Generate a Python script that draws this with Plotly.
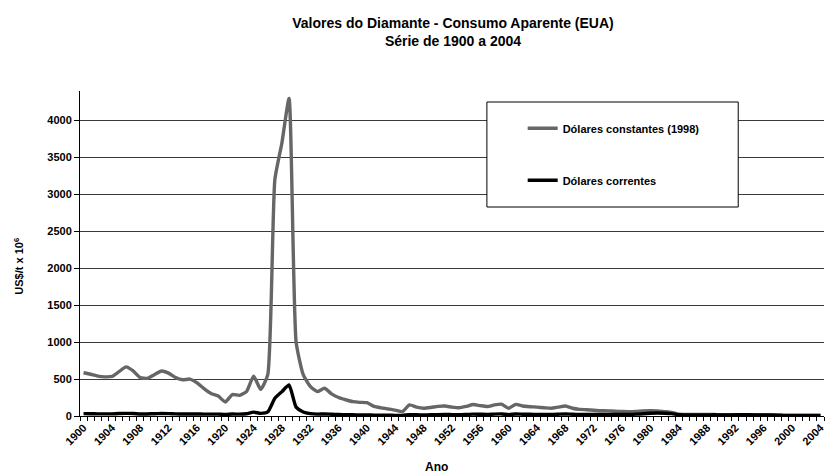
import plotly.graph_objects as go

years = list(range(1900, 2005))

constantes_1998 = [
    585, 565, 540, 530, 535, 600, 665, 610, 520, 510,   # 1900-1909
    560, 610, 580, 520, 490, 500, 450, 370, 305, 270,   # 1910-1919
    190, 290, 280, 330, 540, 360, 560, 3200, 3700, 4300,  # 1920-1929
    1000, 560, 400, 330, 375, 300, 250, 220, 195, 185,  # 1930-1939
    180, 130, 110, 95, 80, 60, 150, 120, 105, 115,      # 1940-1949
    130, 135, 120, 112, 130, 155, 140, 128, 150, 160,   # 1950-1959
    105, 158, 135, 126, 120, 112, 104, 120, 135, 105,   # 1960-1969
    90, 85, 78, 72, 70, 65, 60, 58, 62, 70,             # 1970-1979
    72, 70, 60, 50, 25, 22, 20, 20, 20, 20,             # 1980-1989
    18, 18, 18, 17, 17, 16, 15, 15, 12, 8,              # 1990-1999
    8, 7, 7, 6, 6,                                      # 2000-2004
]

correntes = [
    32, 31, 29, 29, 29, 33, 36, 34, 28, 28,             # 1900-1909
    31, 33, 32, 29, 27, 28, 27, 26, 25, 26,             # 1910-1919
    20, 27, 25, 30, 52, 36, 55, 240, 330, 420,          # 1920-1929
    120, 55, 32, 25, 28, 23, 20, 18, 16, 15,            # 1930-1939
    15, 11, 10, 10, 9, 8, 18, 16, 15, 16,               # 1940-1949
    19, 21, 19, 18, 21, 25, 23, 21, 26, 28,             # 1950-1959
    19, 28, 24, 23, 22, 21, 20, 24, 28, 23,             # 1960-1969
    21, 21, 20, 20, 21, 21, 21, 21, 25, 31,             # 1970-1979
    37, 40, 37, 32, 17, 15, 14, 15, 15, 16,             # 1980-1989
    15, 15, 16, 16, 16, 15, 14, 15, 12, 8,              # 1990-1999
    8, 8, 8, 7, 7,                                      # 2000-2004
]

label_years = list(range(1900, 2005, 4))
y_ticks = list(range(0, 4001, 500))

FONT = "Liberation Sans, Arial, sans-serif"

fig = go.Figure()
fig.add_trace(go.Scatter(
    x=years, y=constantes_1998, mode="lines",
    name="<b>Dólares constantes (1998)</b>", legendgroup="a",
    line=dict(color="#666666", width=3.4, shape="spline", smoothing=0.5),
))
fig.add_trace(go.Scatter(
    x=years, y=correntes, mode="lines",
    name="<b>Dólares correntes</b>", legendgroup="b",
    line=dict(color="#000000", width=3.4, shape="spline", smoothing=0.5),
))

fig.update_layout(
    width=832, height=475,
    margin=dict(l=80, r=6, t=91, b=59),
    paper_bgcolor="white", plot_bgcolor="white",
    font=dict(family=FONT, color="black"),
    title=dict(
        text="<b>Valores do Diamante - Consumo Aparente (EUA)<br>Série de 1900 a 2004</b>",
        x=(80 + 826) / 2 / 832, xanchor="center", y=1 - 28 / 475, yanchor="middle",
        font=dict(size=14, family=FONT, color="black"),
    ),
    showlegend=True,
    legend=dict(
        x=0.595, xanchor="left", y=0.93, yanchor="top",
        bgcolor="rgba(0,0,0,0)", borderwidth=0,
        tracegroupgap=33,
        font=dict(size=11, family=FONT, color="black"),
        traceorder="grouped",
    ),
    xaxis=dict(
        range=[1899.5, 2004.5],
        tickmode="array", tickvals=label_years,
        ticktext=[f"<b>{y}</b>" for y in label_years],
        tickangle=-45, ticks="",
        tickfont=dict(size=11, family=FONT, color="black"),
        showgrid=False, zeroline=False,
        showline=True, linecolor="black", linewidth=1,
        minor=dict(tickmode="array", tickvals=[y - 0.5 for y in years] + [2004.5],
                   ticks="outside", ticklen=4, tickcolor="black", tickwidth=1, showgrid=False),
    ),
    yaxis=dict(
        range=[0, 4400],
        tickmode="array", tickvals=y_ticks, ticktext=[f"<b>{v}</b>" for v in y_ticks],
        ticks="outside", ticklen=5, tickcolor="black",
        tickfont=dict(size=11, family=FONT, color="black"),
        showgrid=True, gridcolor="#3a3a3a", gridwidth=1,
        zeroline=False, showline=True, linecolor="black", linewidth=1,
    ),
    shapes=[dict(
        type="rect", xref="paper", yref="paper",
        x0=(488 - 80) / 746, x1=(740 - 80) / 746,
        y0=(416 - 207) / 325, y1=(416 - 102) / 325,
        line=dict(color="black", width=1), fillcolor="white", layer="above",
    )],
    annotations=[
        dict(text="<b>US$/t x 10<sup>6</sup></b>", textangle=-90,
             xref="paper", yref="paper", x=(18 - 80) / 746, y=0.46,
             xanchor="center", yanchor="middle", showarrow=False,
             font=dict(size=11, family=FONT, color="black")),
        dict(text="<b>Ano</b>", xref="paper", yref="paper",
             x=(437 - 80) / 746, y=(416 - 467) / 325,
             xanchor="center", yanchor="middle", showarrow=False,
             font=dict(size=12, family=FONT, color="black")),
    ],
)

fig.write_html(
    "out.html",
    config={"displayModeBar": False},
    post_script="document.body.style.margin='0px';document.body.style.padding='0px';",
)
